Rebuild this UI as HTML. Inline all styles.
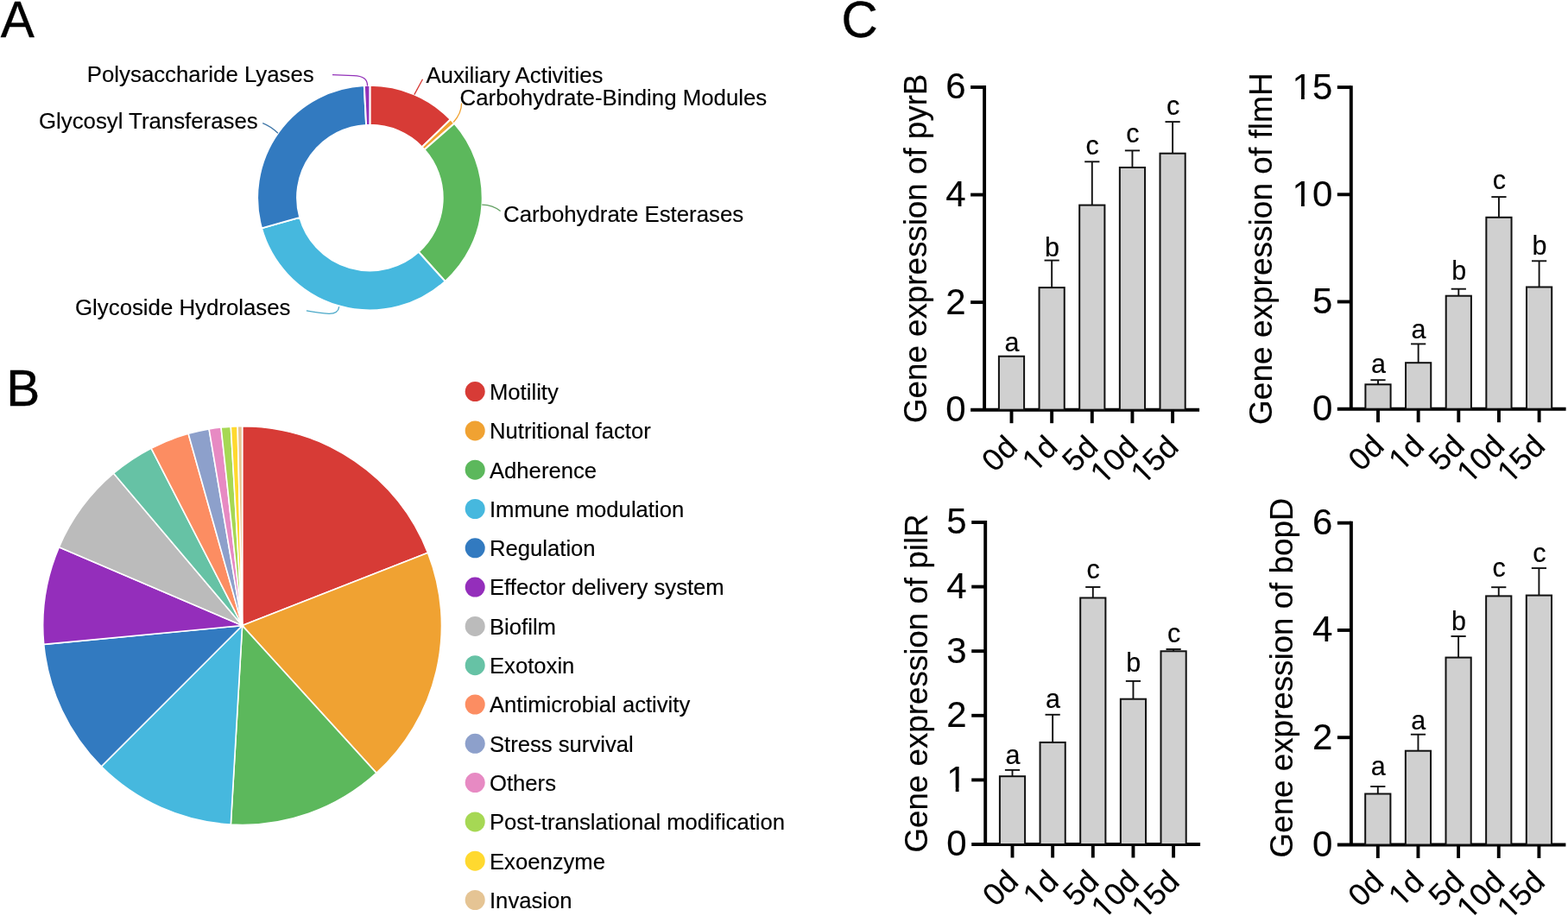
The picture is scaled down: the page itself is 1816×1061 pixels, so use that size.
<!DOCTYPE html>
<html><head><meta charset="utf-8"><title>Figure</title>
<style>
html,body{margin:0;padding:0;background:#fff;}
svg{display:block;filter:blur(0.45px);}
text{font-family:'Liberation Sans', Arial, Helvetica, sans-serif;fill:#000;stroke:#000;stroke-width:0.15px;}
.pl{stroke-width:0.4px;}
</style></head><body>
<svg width="1816" height="1061" viewBox="0 0 1816 1061">
<rect width="1816" height="1061" fill="#fff"/>
<text x="0.70" y="42.80" font-size="58.5" text-anchor="start" class="pl">A</text>
<text x="7.20" y="469.70" font-size="58.5" text-anchor="start" class="pl">B</text>
<text x="974.60" y="42.90" font-size="58.5" text-anchor="start" class="pl">C</text>
<path d="M428.40,98.80 A130.3,130.3 0 0 1 521.81,138.26 L488.84,170.33 A84.3,84.3 0 0 0 428.40,144.80 Z" fill="#d73b36" stroke="#fff" stroke-width="2" stroke-linejoin="round"/>
<path d="M521.81,138.26 A130.3,130.3 0 0 1 526.14,142.93 L491.63,173.35 A84.3,84.3 0 0 0 488.84,170.33 Z" fill="#f0a232" stroke="#fff" stroke-width="2" stroke-linejoin="round"/>
<path d="M526.14,142.93 A130.3,130.3 0 0 1 515.59,325.93 L484.81,291.75 A84.3,84.3 0 0 0 491.63,173.35 Z" fill="#5cb85c" stroke="#fff" stroke-width="2" stroke-linejoin="round"/>
<path d="M515.59,325.93 A130.3,130.3 0 0 1 302.96,264.36 L347.25,251.91 A84.3,84.3 0 0 0 484.81,291.75 Z" fill="#46b8de" stroke="#fff" stroke-width="2" stroke-linejoin="round"/>
<path d="M302.96,264.36 A130.3,130.3 0 0 1 421.81,98.97 L424.14,144.91 A84.3,84.3 0 0 0 347.25,251.91 Z" fill="#327ac0" stroke="#fff" stroke-width="2" stroke-linejoin="round"/>
<path d="M421.81,98.97 A130.3,130.3 0 0 1 428.40,98.80 L428.40,144.80 A84.3,84.3 0 0 0 424.14,144.91 Z" fill="#9231b9" stroke="#fff" stroke-width="2" stroke-linejoin="round"/>
<path d="M479.8,109.6 L489.5,91.7" fill="none" stroke="#d73b36" stroke-width="1.3"/>
<path d="M525.2,141.5 Q534.6,131 534.6,119.5" fill="none" stroke="#f0a232" stroke-width="1.3"/>
<path d="M558.2,237.2 Q571,237.5 579.6,244.6" fill="none" stroke="#63a063" stroke-width="1.3"/>
<path d="M392.7,355.2 Q391.8,363.4 381,363.3 Q370,362.6 354.9,359.8" fill="none" stroke="#4aa8c8" stroke-width="1.3"/>
<path d="M321.9,154.2 Q314,146.5 304.2,142.6" fill="none" stroke="#4077a8" stroke-width="1.3"/>
<path d="M425.5,99.6 Q426,88 409.6,87.6 L385,86.7" fill="none" stroke="#9231b9" stroke-width="1.3"/>
<text x="493.40" y="95.80" font-size="25.8" text-anchor="start" >Auxiliary Activities</text>
<text x="532.60" y="122.00" font-size="25.8" text-anchor="start" >Carbohydrate-Binding Modules</text>
<text x="583.00" y="256.70" font-size="25.8" text-anchor="start" >Carbohydrate Esterases</text>
<text x="363.70" y="95.20" font-size="25.8" text-anchor="end" >Polysaccharide Lyases</text>
<text x="298.70" y="149.00" font-size="25.8" text-anchor="end" >Glycosyl Transferases</text>
<text x="336.50" y="364.70" font-size="25.8" text-anchor="end" >Glycoside Hydrolases</text>
<path d="M280.60,724.60 L280.60,493.70 A230.9,230.9 0 0 1 495.58,640.35 Z" fill="#d73b36" stroke="#fff" stroke-width="1.6" stroke-linejoin="round"/>
<path d="M280.60,724.60 L495.58,640.35 A230.9,230.9 0 0 1 436.00,895.38 Z" fill="#f0a232" stroke="#fff" stroke-width="1.6" stroke-linejoin="round"/>
<path d="M280.60,724.60 L436.00,895.38 A230.9,230.9 0 0 1 267.31,955.12 Z" fill="#5cb85c" stroke="#fff" stroke-width="1.6" stroke-linejoin="round"/>
<path d="M280.60,724.60 L267.31,955.12 A230.9,230.9 0 0 1 117.33,887.87 Z" fill="#46b8de" stroke="#fff" stroke-width="1.6" stroke-linejoin="round"/>
<path d="M280.60,724.60 L117.33,887.87 A230.9,230.9 0 0 1 50.72,746.33 Z" fill="#327ac0" stroke="#fff" stroke-width="1.6" stroke-linejoin="round"/>
<path d="M280.60,724.60 L50.72,746.33 A230.9,230.9 0 0 1 68.29,633.82 Z" fill="#942ebb" stroke="#fff" stroke-width="1.6" stroke-linejoin="round"/>
<path d="M280.60,724.60 L68.29,633.82 A230.9,230.9 0 0 1 131.56,548.24 Z" fill="#bbbbbb" stroke="#fff" stroke-width="1.6" stroke-linejoin="round"/>
<path d="M280.60,724.60 L131.56,548.24 A230.9,230.9 0 0 1 175.06,519.23 Z" fill="#66c2a5" stroke="#fff" stroke-width="1.6" stroke-linejoin="round"/>
<path d="M280.60,724.60 L175.06,519.23 A230.9,230.9 0 0 1 218.12,502.31 Z" fill="#fc8d62" stroke="#fff" stroke-width="1.6" stroke-linejoin="round"/>
<path d="M280.60,724.60 L218.12,502.31 A230.9,230.9 0 0 1 242.09,496.93 Z" fill="#8da0cb" stroke="#fff" stroke-width="1.6" stroke-linejoin="round"/>
<path d="M280.60,724.60 L242.09,496.93 A230.9,230.9 0 0 1 256.06,495.01 Z" fill="#e78ac3" stroke="#fff" stroke-width="1.6" stroke-linejoin="round"/>
<path d="M280.60,724.60 L256.06,495.01 A230.9,230.9 0 0 1 267.31,494.08 Z" fill="#a6d854" stroke="#fff" stroke-width="1.6" stroke-linejoin="round"/>
<path d="M280.60,724.60 L267.31,494.08 A230.9,230.9 0 0 1 275.16,493.76 Z" fill="#ffd92f" stroke="#fff" stroke-width="1.6" stroke-linejoin="round"/>
<path d="M280.60,724.60 L275.16,493.76 A230.9,230.9 0 0 1 280.60,493.70 Z" fill="#e5c494" stroke="#fff" stroke-width="1.6" stroke-linejoin="round"/>
<circle cx="550.2" cy="453.60" r="11.5" fill="#d73b36"/>
<text x="567.00" y="462.90" font-size="25.65" text-anchor="start" >Motility</text>
<circle cx="550.2" cy="498.90" r="11.5" fill="#f0a232"/>
<text x="567.00" y="508.20" font-size="25.65" text-anchor="start" >Nutritional factor</text>
<circle cx="550.2" cy="544.20" r="11.5" fill="#5cb85c"/>
<text x="567.00" y="553.50" font-size="25.65" text-anchor="start" >Adherence</text>
<circle cx="550.2" cy="589.50" r="11.5" fill="#46b8de"/>
<text x="567.00" y="598.80" font-size="25.65" text-anchor="start" >Immune modulation</text>
<circle cx="550.2" cy="634.80" r="11.5" fill="#327ac0"/>
<text x="567.00" y="644.10" font-size="25.65" text-anchor="start" >Regulation</text>
<circle cx="550.2" cy="680.10" r="11.5" fill="#942ebb"/>
<text x="567.00" y="689.40" font-size="25.65" text-anchor="start" >Effector delivery system</text>
<circle cx="550.2" cy="725.40" r="11.5" fill="#bbbbbb"/>
<text x="567.00" y="734.70" font-size="25.65" text-anchor="start" >Biofilm</text>
<circle cx="550.2" cy="770.70" r="11.5" fill="#66c2a5"/>
<text x="567.00" y="780.00" font-size="25.65" text-anchor="start" >Exotoxin</text>
<circle cx="550.2" cy="816.00" r="11.5" fill="#fc8d62"/>
<text x="567.00" y="825.30" font-size="25.65" text-anchor="start" >Antimicrobial activity</text>
<circle cx="550.2" cy="861.30" r="11.5" fill="#8da0cb"/>
<text x="567.00" y="870.60" font-size="25.65" text-anchor="start" >Stress survival</text>
<circle cx="550.2" cy="906.60" r="11.5" fill="#e78ac3"/>
<text x="567.00" y="915.90" font-size="25.65" text-anchor="start" >Others</text>
<circle cx="550.2" cy="951.90" r="11.5" fill="#a6d854"/>
<text x="567.00" y="961.20" font-size="25.65" text-anchor="start" >Post-translational modification</text>
<circle cx="550.2" cy="997.20" r="11.5" fill="#ffd92f"/>
<text x="567.00" y="1006.50" font-size="25.65" text-anchor="start" >Exoenzyme</text>
<circle cx="550.2" cy="1042.50" r="11.5" fill="#e5c494"/>
<text x="567.00" y="1051.80" font-size="25.65" text-anchor="start" >Invasion</text>
<line x1="1140.1" y1="99.05" x2="1140.1" y2="474.70" stroke="#000" stroke-width="3.9"/><text x="1118.60" y="488.10" font-size="42" text-anchor="end" >0</text><line x1="1124.10" y1="350.13" x2="1140.10" y2="350.13" stroke="#000" stroke-width="3.9"/><text x="1118.60" y="363.53" font-size="42" text-anchor="end" >2</text><line x1="1124.10" y1="225.57" x2="1140.10" y2="225.57" stroke="#000" stroke-width="3.9"/><text x="1118.60" y="238.97" font-size="42" text-anchor="end" >4</text><line x1="1124.10" y1="101.00" x2="1140.10" y2="101.00" stroke="#000" stroke-width="3.9"/><text x="1118.60" y="114.40" font-size="42" text-anchor="end" >6</text><line x1="1124.10" y1="474.70" x2="1389.10" y2="474.70" stroke="#000" stroke-width="3.9"/><rect x="1156.90" y="412.70" width="29.20" height="62.00" fill="#d0d0d0" stroke="#111" stroke-width="2"/><line x1="1171.50" y1="474.70" x2="1171.50" y2="490.20" stroke="#000" stroke-width="3.9"/><text transform="translate(1180.30,519.90) rotate(-45)" font-size="36" text-anchor="end">0d</text><text x="1171.90" y="406.70" font-size="30.5" text-anchor="middle" >a</text><line x1="1218.15" y1="333.10" x2="1218.15" y2="301.60" stroke="#111" stroke-width="1.9"/><line x1="1209.55" y1="301.60" x2="1226.75" y2="301.60" stroke="#111" stroke-width="1.9"/><rect x="1203.55" y="333.10" width="29.20" height="141.60" fill="#d0d0d0" stroke="#111" stroke-width="2"/><line x1="1218.15" y1="474.70" x2="1218.15" y2="490.20" stroke="#000" stroke-width="3.9"/><text transform="translate(1226.95,519.90) rotate(-45)" font-size="36" text-anchor="end">1d</text><g transform="translate(1226.95,519.90) rotate(-45)"><rect x="-38.95" y="-3.60" width="7.81" height="6.12" fill="#fff"/><rect x="-27.86" y="-3.60" width="7.45" height="6.12" fill="#fff"/></g><text x="1218.55" y="296.50" font-size="30.5" text-anchor="middle" >b</text><line x1="1264.80" y1="237.60" x2="1264.80" y2="187.30" stroke="#111" stroke-width="1.9"/><line x1="1256.20" y1="187.30" x2="1273.40" y2="187.30" stroke="#111" stroke-width="1.9"/><rect x="1250.20" y="237.60" width="29.20" height="237.10" fill="#d0d0d0" stroke="#111" stroke-width="2"/><line x1="1264.80" y1="474.70" x2="1264.80" y2="490.20" stroke="#000" stroke-width="3.9"/><text transform="translate(1273.60,519.90) rotate(-45)" font-size="36" text-anchor="end">5d</text><text x="1265.20" y="179.20" font-size="30.5" text-anchor="middle" >c</text><line x1="1311.45" y1="194.00" x2="1311.45" y2="174.40" stroke="#111" stroke-width="1.9"/><line x1="1302.85" y1="174.40" x2="1320.05" y2="174.40" stroke="#111" stroke-width="1.9"/><rect x="1296.85" y="194.00" width="29.20" height="280.70" fill="#d0d0d0" stroke="#111" stroke-width="2"/><line x1="1311.45" y1="474.70" x2="1311.45" y2="490.20" stroke="#000" stroke-width="3.9"/><text transform="translate(1320.25,519.90) rotate(-45)" font-size="36" text-anchor="end">10d</text><g transform="translate(1320.25,519.90) rotate(-45)"><rect x="-58.97" y="-3.60" width="7.81" height="6.12" fill="#fff"/><rect x="-47.88" y="-3.60" width="7.45" height="6.12" fill="#fff"/></g><text x="1311.85" y="164.50" font-size="30.5" text-anchor="middle" >c</text><line x1="1358.10" y1="177.70" x2="1358.10" y2="141.10" stroke="#111" stroke-width="1.9"/><line x1="1349.50" y1="141.10" x2="1366.70" y2="141.10" stroke="#111" stroke-width="1.9"/><rect x="1343.50" y="177.70" width="29.20" height="297.00" fill="#d0d0d0" stroke="#111" stroke-width="2"/><line x1="1358.10" y1="474.70" x2="1358.10" y2="490.20" stroke="#000" stroke-width="3.9"/><text transform="translate(1366.90,519.90) rotate(-45)" font-size="36" text-anchor="end">15d</text><g transform="translate(1366.90,519.90) rotate(-45)"><rect x="-58.97" y="-3.60" width="7.81" height="6.12" fill="#fff"/><rect x="-47.88" y="-3.60" width="7.45" height="6.12" fill="#fff"/></g><text x="1358.50" y="133.20" font-size="30.5" text-anchor="middle" >c</text><text transform="translate(1073.20,287.85) rotate(-90)" font-size="36.75" text-anchor="middle">Gene expression of pyrB</text>
<line x1="1564.8" y1="99.15" x2="1564.8" y2="473.70" stroke="#000" stroke-width="3.9"/><text x="1543.30" y="487.10" font-size="42" text-anchor="end" >0</text><line x1="1548.80" y1="349.50" x2="1564.80" y2="349.50" stroke="#000" stroke-width="3.9"/><text x="1543.30" y="362.90" font-size="42" text-anchor="end" >5</text><line x1="1548.80" y1="225.30" x2="1564.80" y2="225.30" stroke="#000" stroke-width="3.9"/><text x="1543.30" y="238.70" font-size="42" text-anchor="end" >10</text><g transform="translate(1543.30,238.70)"><rect x="-45.44" y="-4.20" width="9.11" height="7.14" fill="#fff"/><rect x="-32.51" y="-4.20" width="8.69" height="7.14" fill="#fff"/></g><line x1="1548.80" y1="101.10" x2="1564.80" y2="101.10" stroke="#000" stroke-width="3.9"/><text x="1543.30" y="114.50" font-size="42" text-anchor="end" >15</text><g transform="translate(1543.30,114.50)"><rect x="-45.44" y="-4.20" width="9.11" height="7.14" fill="#fff"/><rect x="-32.51" y="-4.20" width="8.69" height="7.14" fill="#fff"/></g><line x1="1548.80" y1="473.70" x2="1813.60" y2="473.70" stroke="#000" stroke-width="3.9"/><line x1="1596.00" y1="445.30" x2="1596.00" y2="440.20" stroke="#111" stroke-width="1.9"/><line x1="1587.40" y1="440.20" x2="1604.60" y2="440.20" stroke="#111" stroke-width="1.9"/><rect x="1581.40" y="445.30" width="29.20" height="28.40" fill="#d0d0d0" stroke="#111" stroke-width="2"/><line x1="1596.00" y1="473.70" x2="1596.00" y2="489.20" stroke="#000" stroke-width="3.9"/><text transform="translate(1604.80,518.90) rotate(-45)" font-size="36" text-anchor="end">0d</text><text x="1596.40" y="432.20" font-size="30.5" text-anchor="middle" >a</text><line x1="1642.65" y1="420.20" x2="1642.65" y2="398.40" stroke="#111" stroke-width="1.9"/><line x1="1634.05" y1="398.40" x2="1651.25" y2="398.40" stroke="#111" stroke-width="1.9"/><rect x="1628.05" y="420.20" width="29.20" height="53.50" fill="#d0d0d0" stroke="#111" stroke-width="2"/><line x1="1642.65" y1="473.70" x2="1642.65" y2="489.20" stroke="#000" stroke-width="3.9"/><text transform="translate(1651.45,518.90) rotate(-45)" font-size="36" text-anchor="end">1d</text><g transform="translate(1651.45,518.90) rotate(-45)"><rect x="-38.95" y="-3.60" width="7.81" height="6.12" fill="#fff"/><rect x="-27.86" y="-3.60" width="7.45" height="6.12" fill="#fff"/></g><text x="1643.05" y="391.60" font-size="30.5" text-anchor="middle" >a</text><line x1="1689.30" y1="342.70" x2="1689.30" y2="334.70" stroke="#111" stroke-width="1.9"/><line x1="1680.70" y1="334.70" x2="1697.90" y2="334.70" stroke="#111" stroke-width="1.9"/><rect x="1674.70" y="342.70" width="29.20" height="131.00" fill="#d0d0d0" stroke="#111" stroke-width="2"/><line x1="1689.30" y1="473.70" x2="1689.30" y2="489.20" stroke="#000" stroke-width="3.9"/><text transform="translate(1698.10,518.90) rotate(-45)" font-size="36" text-anchor="end">5d</text><text x="1689.70" y="323.50" font-size="30.5" text-anchor="middle" >b</text><line x1="1735.95" y1="251.80" x2="1735.95" y2="228.10" stroke="#111" stroke-width="1.9"/><line x1="1727.35" y1="228.10" x2="1744.55" y2="228.10" stroke="#111" stroke-width="1.9"/><rect x="1721.35" y="251.80" width="29.20" height="221.90" fill="#d0d0d0" stroke="#111" stroke-width="2"/><line x1="1735.95" y1="473.70" x2="1735.95" y2="489.20" stroke="#000" stroke-width="3.9"/><text transform="translate(1744.75,518.90) rotate(-45)" font-size="36" text-anchor="end">10d</text><g transform="translate(1744.75,518.90) rotate(-45)"><rect x="-58.97" y="-3.60" width="7.81" height="6.12" fill="#fff"/><rect x="-47.88" y="-3.60" width="7.45" height="6.12" fill="#fff"/></g><text x="1736.35" y="219.00" font-size="30.5" text-anchor="middle" >c</text><line x1="1782.60" y1="332.50" x2="1782.60" y2="302.30" stroke="#111" stroke-width="1.9"/><line x1="1774.00" y1="302.30" x2="1791.20" y2="302.30" stroke="#111" stroke-width="1.9"/><rect x="1768.00" y="332.50" width="29.20" height="141.20" fill="#d0d0d0" stroke="#111" stroke-width="2"/><line x1="1782.60" y1="473.70" x2="1782.60" y2="489.20" stroke="#000" stroke-width="3.9"/><text transform="translate(1791.40,518.90) rotate(-45)" font-size="36" text-anchor="end">15d</text><g transform="translate(1791.40,518.90) rotate(-45)"><rect x="-58.97" y="-3.60" width="7.81" height="6.12" fill="#fff"/><rect x="-47.88" y="-3.60" width="7.45" height="6.12" fill="#fff"/></g><text x="1783.00" y="295.10" font-size="30.5" text-anchor="middle" >b</text><text transform="translate(1473.40,288.20) rotate(-90)" font-size="37.05" text-anchor="middle">Gene expression of flmH</text>
<line x1="1141.2" y1="603.05" x2="1141.2" y2="978.00" stroke="#000" stroke-width="3.9"/><text x="1119.70" y="991.40" font-size="42" text-anchor="end" >0</text><line x1="1125.20" y1="903.40" x2="1141.20" y2="903.40" stroke="#000" stroke-width="3.9"/><text x="1119.70" y="916.80" font-size="42" text-anchor="end" >1</text><g transform="translate(1119.70,916.80)"><rect x="-22.09" y="-4.20" width="9.11" height="7.14" fill="#fff"/><rect x="-9.16" y="-4.20" width="8.69" height="7.14" fill="#fff"/></g><line x1="1125.20" y1="828.80" x2="1141.20" y2="828.80" stroke="#000" stroke-width="3.9"/><text x="1119.70" y="842.20" font-size="42" text-anchor="end" >2</text><line x1="1125.20" y1="754.20" x2="1141.20" y2="754.20" stroke="#000" stroke-width="3.9"/><text x="1119.70" y="767.60" font-size="42" text-anchor="end" >3</text><line x1="1125.20" y1="679.60" x2="1141.20" y2="679.60" stroke="#000" stroke-width="3.9"/><text x="1119.70" y="693.00" font-size="42" text-anchor="end" >4</text><line x1="1125.20" y1="605.00" x2="1141.20" y2="605.00" stroke="#000" stroke-width="3.9"/><text x="1119.70" y="618.40" font-size="42" text-anchor="end" >5</text><line x1="1125.20" y1="978.00" x2="1390.10" y2="978.00" stroke="#000" stroke-width="3.9"/><line x1="1172.50" y1="899.20" x2="1172.50" y2="891.90" stroke="#111" stroke-width="1.9"/><line x1="1163.90" y1="891.90" x2="1181.10" y2="891.90" stroke="#111" stroke-width="1.9"/><rect x="1157.90" y="899.20" width="29.20" height="78.80" fill="#d0d0d0" stroke="#111" stroke-width="2"/><line x1="1172.50" y1="978.00" x2="1172.50" y2="993.50" stroke="#000" stroke-width="3.9"/><text transform="translate(1181.30,1023.20) rotate(-45)" font-size="36" text-anchor="end">0d</text><text x="1172.90" y="885.20" font-size="30.5" text-anchor="middle" >a</text><line x1="1219.15" y1="859.90" x2="1219.15" y2="827.80" stroke="#111" stroke-width="1.9"/><line x1="1210.55" y1="827.80" x2="1227.75" y2="827.80" stroke="#111" stroke-width="1.9"/><rect x="1204.55" y="859.90" width="29.20" height="118.10" fill="#d0d0d0" stroke="#111" stroke-width="2"/><line x1="1219.15" y1="978.00" x2="1219.15" y2="993.50" stroke="#000" stroke-width="3.9"/><text transform="translate(1227.95,1023.20) rotate(-45)" font-size="36" text-anchor="end">1d</text><g transform="translate(1227.95,1023.20) rotate(-45)"><rect x="-38.95" y="-3.60" width="7.81" height="6.12" fill="#fff"/><rect x="-27.86" y="-3.60" width="7.45" height="6.12" fill="#fff"/></g><text x="1219.55" y="819.50" font-size="30.5" text-anchor="middle" >a</text><line x1="1265.80" y1="692.50" x2="1265.80" y2="680.00" stroke="#111" stroke-width="1.9"/><line x1="1257.20" y1="680.00" x2="1274.40" y2="680.00" stroke="#111" stroke-width="1.9"/><rect x="1251.20" y="692.50" width="29.20" height="285.50" fill="#d0d0d0" stroke="#111" stroke-width="2"/><line x1="1265.80" y1="978.00" x2="1265.80" y2="993.50" stroke="#000" stroke-width="3.9"/><text transform="translate(1274.60,1023.20) rotate(-45)" font-size="36" text-anchor="end">5d</text><text x="1266.20" y="670.10" font-size="30.5" text-anchor="middle" >c</text><line x1="1312.45" y1="809.70" x2="1312.45" y2="788.90" stroke="#111" stroke-width="1.9"/><line x1="1303.85" y1="788.90" x2="1321.05" y2="788.90" stroke="#111" stroke-width="1.9"/><rect x="1297.85" y="809.70" width="29.20" height="168.30" fill="#d0d0d0" stroke="#111" stroke-width="2"/><line x1="1312.45" y1="978.00" x2="1312.45" y2="993.50" stroke="#000" stroke-width="3.9"/><text transform="translate(1321.25,1023.20) rotate(-45)" font-size="36" text-anchor="end">10d</text><g transform="translate(1321.25,1023.20) rotate(-45)"><rect x="-58.97" y="-3.60" width="7.81" height="6.12" fill="#fff"/><rect x="-47.88" y="-3.60" width="7.45" height="6.12" fill="#fff"/></g><text x="1312.85" y="778.10" font-size="30.5" text-anchor="middle" >b</text><line x1="1359.10" y1="754.30" x2="1359.10" y2="752.00" stroke="#111" stroke-width="1.9"/><line x1="1350.50" y1="752.00" x2="1367.70" y2="752.00" stroke="#111" stroke-width="1.9"/><rect x="1344.50" y="754.30" width="29.20" height="223.70" fill="#d0d0d0" stroke="#111" stroke-width="2"/><line x1="1359.10" y1="978.00" x2="1359.10" y2="993.50" stroke="#000" stroke-width="3.9"/><text transform="translate(1367.90,1023.20) rotate(-45)" font-size="36" text-anchor="end">15d</text><g transform="translate(1367.90,1023.20) rotate(-45)"><rect x="-58.97" y="-3.60" width="7.81" height="6.12" fill="#fff"/><rect x="-47.88" y="-3.60" width="7.45" height="6.12" fill="#fff"/></g><text x="1359.50" y="744.10" font-size="30.5" text-anchor="middle" >c</text><text transform="translate(1073.70,791.50) rotate(-90)" font-size="36.75" text-anchor="middle">Gene expression of pilR</text>
<line x1="1564.9" y1="603.75" x2="1564.9" y2="978.50" stroke="#000" stroke-width="3.9"/><text x="1543.40" y="991.90" font-size="42" text-anchor="end" >0</text><line x1="1548.90" y1="854.23" x2="1564.90" y2="854.23" stroke="#000" stroke-width="3.9"/><text x="1543.40" y="867.63" font-size="42" text-anchor="end" >2</text><line x1="1548.90" y1="729.97" x2="1564.90" y2="729.97" stroke="#000" stroke-width="3.9"/><text x="1543.40" y="743.37" font-size="42" text-anchor="end" >4</text><line x1="1548.90" y1="605.70" x2="1564.90" y2="605.70" stroke="#000" stroke-width="3.9"/><text x="1543.40" y="619.10" font-size="42" text-anchor="end" >6</text><line x1="1548.90" y1="978.50" x2="1813.40" y2="978.50" stroke="#000" stroke-width="3.9"/><line x1="1595.80" y1="919.50" x2="1595.80" y2="911.00" stroke="#111" stroke-width="1.9"/><line x1="1587.20" y1="911.00" x2="1604.40" y2="911.00" stroke="#111" stroke-width="1.9"/><rect x="1581.20" y="919.50" width="29.20" height="59.00" fill="#d0d0d0" stroke="#111" stroke-width="2"/><line x1="1595.80" y1="978.50" x2="1595.80" y2="994.00" stroke="#000" stroke-width="3.9"/><text transform="translate(1604.60,1023.70) rotate(-45)" font-size="36" text-anchor="end">0d</text><text x="1596.20" y="898.40" font-size="30.5" text-anchor="middle" >a</text><line x1="1642.45" y1="869.70" x2="1642.45" y2="850.70" stroke="#111" stroke-width="1.9"/><line x1="1633.85" y1="850.70" x2="1651.05" y2="850.70" stroke="#111" stroke-width="1.9"/><rect x="1627.85" y="869.70" width="29.20" height="108.80" fill="#d0d0d0" stroke="#111" stroke-width="2"/><line x1="1642.45" y1="978.50" x2="1642.45" y2="994.00" stroke="#000" stroke-width="3.9"/><text transform="translate(1651.25,1023.70) rotate(-45)" font-size="36" text-anchor="end">1d</text><g transform="translate(1651.25,1023.70) rotate(-45)"><rect x="-38.95" y="-3.60" width="7.81" height="6.12" fill="#fff"/><rect x="-27.86" y="-3.60" width="7.45" height="6.12" fill="#fff"/></g><text x="1642.85" y="844.70" font-size="30.5" text-anchor="middle" >a</text><line x1="1689.10" y1="761.60" x2="1689.10" y2="737.00" stroke="#111" stroke-width="1.9"/><line x1="1680.50" y1="737.00" x2="1697.70" y2="737.00" stroke="#111" stroke-width="1.9"/><rect x="1674.50" y="761.60" width="29.20" height="216.90" fill="#d0d0d0" stroke="#111" stroke-width="2"/><line x1="1689.10" y1="978.50" x2="1689.10" y2="994.00" stroke="#000" stroke-width="3.9"/><text transform="translate(1697.90,1023.70) rotate(-45)" font-size="36" text-anchor="end">5d</text><text x="1689.50" y="729.60" font-size="30.5" text-anchor="middle" >b</text><line x1="1735.75" y1="690.40" x2="1735.75" y2="680.20" stroke="#111" stroke-width="1.9"/><line x1="1727.15" y1="680.20" x2="1744.35" y2="680.20" stroke="#111" stroke-width="1.9"/><rect x="1721.15" y="690.40" width="29.20" height="288.10" fill="#d0d0d0" stroke="#111" stroke-width="2"/><line x1="1735.75" y1="978.50" x2="1735.75" y2="994.00" stroke="#000" stroke-width="3.9"/><text transform="translate(1744.55,1023.70) rotate(-45)" font-size="36" text-anchor="end">10d</text><g transform="translate(1744.55,1023.70) rotate(-45)"><rect x="-58.97" y="-3.60" width="7.81" height="6.12" fill="#fff"/><rect x="-47.88" y="-3.60" width="7.45" height="6.12" fill="#fff"/></g><text x="1736.15" y="667.90" font-size="30.5" text-anchor="middle" >c</text><line x1="1782.40" y1="689.60" x2="1782.40" y2="658.10" stroke="#111" stroke-width="1.9"/><line x1="1773.80" y1="658.10" x2="1791.00" y2="658.10" stroke="#111" stroke-width="1.9"/><rect x="1767.80" y="689.60" width="29.20" height="288.90" fill="#d0d0d0" stroke="#111" stroke-width="2"/><line x1="1782.40" y1="978.50" x2="1782.40" y2="994.00" stroke="#000" stroke-width="3.9"/><text transform="translate(1791.20,1023.70) rotate(-45)" font-size="36" text-anchor="end">15d</text><g transform="translate(1791.20,1023.70) rotate(-45)"><rect x="-58.97" y="-3.60" width="7.81" height="6.12" fill="#fff"/><rect x="-47.88" y="-3.60" width="7.45" height="6.12" fill="#fff"/></g><text x="1782.80" y="650.80" font-size="30.5" text-anchor="middle" >c</text><text transform="translate(1497.00,785.00) rotate(-90)" font-size="36.75" text-anchor="middle">Gene expression of bopD</text>
</svg>
</body></html>
